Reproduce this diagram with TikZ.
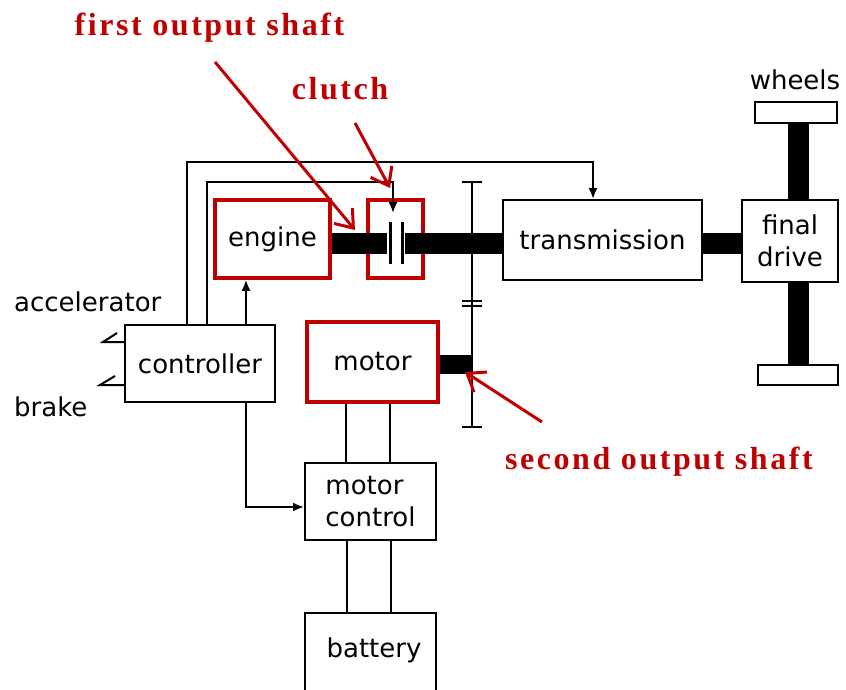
\documentclass[tikz,border=0pt]{standalone}
\usepackage{fontspec}
\setmainfont{DejaVu Sans}
\newfontfamily\redfont[LetterSpace=8]{Liberation Serif}
\usetikzlibrary{arrows.meta}
\definecolor{myred}{HTML}{C00000}
\tikzset{
  box/.style={draw=black, line width=2pt, inner sep=0pt, font=\fontsize{26}{32}\selectfont},
  redbox/.style={draw=myred, line width=3.5pt, inner sep=0pt, font=\fontsize{26}{32}\selectfont},
  lbl/.style={inner sep=0pt, font=\fontsize{26}{32}\selectfont},
  redlbl/.style={inner sep=0pt, text=myred, font=\fontsize{32}{36}\redfont\bfseries},
  shaft/.style={line width=21pt},
  thinshaft/.style={line width=19pt},
  wire/.style={line width=2pt},
  plate/.style={line width=3pt},
  tip/.style={-{Latex[length=11pt,width=9pt]}},
  redarrow/.style={draw=myred, line width=3pt, -{Straight Barb[length=16pt,width=24pt]}}
}
\begin{document}
\begin{tikzpicture}[x=1pt,y=-1pt]
\useasboundingbox (0,0) rectangle (846,690);

% boxes
\node[redbox, minimum width=115pt, minimum height=78pt] (engine) at (272.5,239) {engine};
\node[redbox, minimum width=55pt, minimum height=78pt] (clutch) at (395.5,239) {};
\node[box, minimum width=199pt, minimum height=80pt] (trans) at (602.5,240) {transmission};
\node[box, minimum width=96pt, minimum height=82pt, align=center] (fd) at (790,241) {final\\drive};
\node[box, minimum width=82pt, minimum height=21pt] (wt) at (796,112.5) {};
\node[box, minimum width=80pt, minimum height=20pt] (wb) at (798,375) {};
\node[box, minimum width=150pt, minimum height=77pt] (ctrl) at (200,363.5) {controller};
\node[redbox, minimum width=131pt, minimum height=80pt] (motor) at (372.5,362) {motor};
\node[box, minimum width=131pt, minimum height=77pt, align=left] (mc) at (370.5,501.5) {motor\\control};
\node[box, minimum width=131pt, minimum height=87pt] (bat) at (370.5,656.5) {};
\node[lbl] (battxt) at (374,650) {battery};

% labels
\node[lbl] (wheels) at (795,80) {wheels};
\node[lbl, anchor=west] (acc) at (14,302) {accelerator};
\node[lbl, anchor=west] (brk) at (14,407) {brake};
\node[redlbl] (l1) at (209.5,28) {first output shaft};
\node[redlbl] (l2) at (340,89) {clutch};
\node[redlbl] (l3) at (659,462) {second output shaft};

% main shaft with clutch
\coordinate (p1) at (390,243);
\coordinate (p2) at (402,243);
\draw[shaft] (engine.east |- 0,243) -- ([xshift=-3pt]p1);
\draw[shaft] ([xshift=3pt]p2) -- (trans.west |- 0,243);
\draw[plate] (390,222) -- (390,264);
\draw[plate] (402,222) -- (402,264);
\draw[shaft] (trans.east |- 0,243) -- (fd.west |- 0,243);

% axles
\draw[shaft] (wt.south -| 798,0) -- (fd.north -| 798,0);
\draw[shaft] (fd.south -| 798,0) -- (wb.north -| 798,0);

% gear shaft
\coordinate (gtop) at (472,182);
\coordinate (gbot) at (472,427);
\draw[wire] (gtop) -- (gbot);
\draw[wire] ([xshift=-10pt]gtop) -- ([xshift=10pt]gtop);
\draw[wire] ([xshift=-10pt]gbot) -- ([xshift=10pt]gbot);
\draw[wire] (462,301) -- (482,301);
\draw[wire] (462,306) -- (482,306);
\draw[thinshaft] (motor.east |- 0,364) -- (473,364);

% control lines
\coordinate (clutchin) at (393,213);
\draw[wire, tip] (ctrl.north -| 187,0) -- (187,162) -- (593,162) -- (trans.north -| 593,0);
\draw[wire, tip] (ctrl.north -| 207,0) -- (207,182) -- (393,182) -- (clutchin);
\draw[wire, tip] (ctrl.north -| 246,0) -- (engine.south -| 246,0);
\draw[wire, tip] (ctrl.south -| 246,0) -- (246,507) -- (mc.west |- 0,507);

% power wires
\draw[wire] (motor.south -| 346,0) -- (mc.north -| 346,0);
\draw[wire] (motor.south -| 390,0) -- (mc.north -| 390,0);
\draw[wire] (mc.south -| 347,0) -- (bat.north -| 347,0);
\draw[wire] (mc.south -| 391,0) -- (bat.north -| 391,0);

% pedal inputs
\draw[wire] (ctrl.west |- 0,342) -- (103,342) -- (117,333);
\draw[wire] (ctrl.west |- 0,385) -- (100,385) -- (115,376);

% red pointer arrows
\coordinate (a1s) at (215,62);
\coordinate (a1e) at (355,230);
\coordinate (a2s) at (355,123);
\coordinate (a2e) at (390,188);
\coordinate (a3s) at (542,422);
\coordinate (a3e) at (465,372);
\draw[redarrow] (a1s) -- (a1e);
\draw[redarrow] (a2s) -- (a2e);
\draw[redarrow] (a3s) -- (a3e);
\end{tikzpicture}
\end{document}
